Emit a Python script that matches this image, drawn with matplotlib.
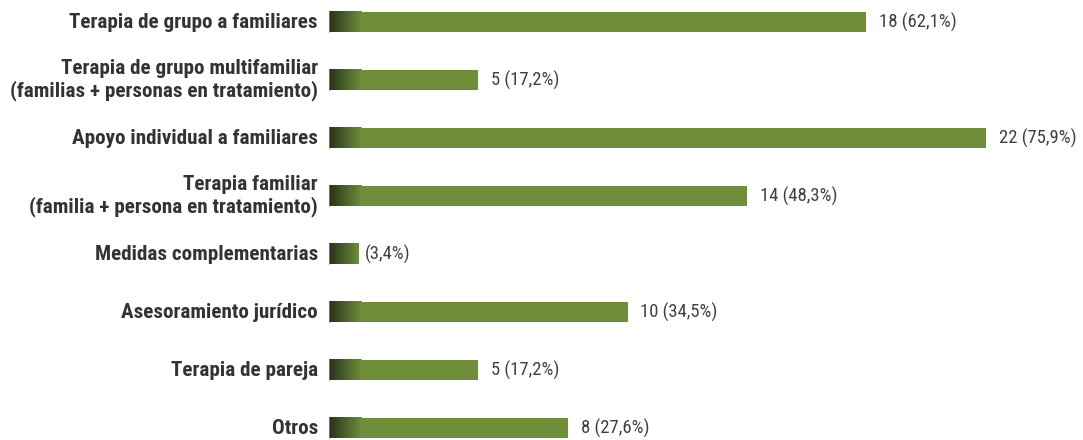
import numpy as np
import matplotlib.pyplot as plt

# -----------------------------
# Data
# -----------------------------
categories = [
    "Terapia de grupo a familiares",
    "Terapia de grupo multifamiliar\n(familias + personas en tratamiento)",
    "Apoyo individual a familiares",
    "Terapia familiar\n(familia + persona en tratamiento)",
    "Medidas complementarias",
    "Asesoramiento jurídico",
    "Terapia de pareja",
    "Otros",
]
values = [18, 5, 22, 14, 1, 10, 5, 8]
value_labels = ["18 (62,1%)", "5 (17,2%)", "22 (75,9%)", "14 (48,3%)",
                "(3,4%)", "10 (34,5%)", "5 (17,2%)", "8 (27,6%)"]

plt.rcParams["font.family"] = ["Roboto Condensed", "Roboto", "DejaVu Sans"]

green = "#6f8e3a"
dark = np.array([0x26, 0x33, 0x16]) / 255
light = np.array([0x6f, 0x8e, 0x3a]) / 255

# -----------------------------
# Plot
# -----------------------------
fig = plt.figure(figsize=(10.83, 4.4), dpi=100)
ax = fig.add_axes([329 / 1083, 0, 1 - 329 / 1083, 1])

y = np.arange(len(categories))
bar_h = 0.345
ax.barh(y, values, height=bar_h, color=green, zorder=2)

# dark gradient at the start of each bar
grad = np.linspace(0, 1, 64)
img = dark[None, :] + (light - dark)[None, :] * grad[:, None]
img = img[None, :, :]
for yi, v in zip(y, values):
    w = min(1.1, v)
    ax.imshow(img, extent=[0, w, yi + bar_h / 2, yi - bar_h / 2],
              aspect="auto", zorder=3, interpolation="bilinear")
    ax.plot([0, 0], [yi - bar_h / 2, yi + bar_h / 2], color="#808080",
            lw=1.2, zorder=4)

for yi, v, lab in zip(y, values, value_labels):
    off = 0.2 if v < 2 else 0.43
    ax.text(v + off, yi, lab, va="center", ha="left", fontsize=13.4,
            color="#404040")

for yi, cat in zip(y, categories):
    ax.text(-0.37, yi, cat, va="center", ha="right", fontsize=15.2,
            fontweight="bold", color="#333333", linespacing=1.15)

ax.set_xlim(0, (1083 - 329) / 29.85)
ax.set_ylim(7 + 12 / 58, -22 / 58)
ax.axis("off")

fig.savefig("out.png", dpi=100)
